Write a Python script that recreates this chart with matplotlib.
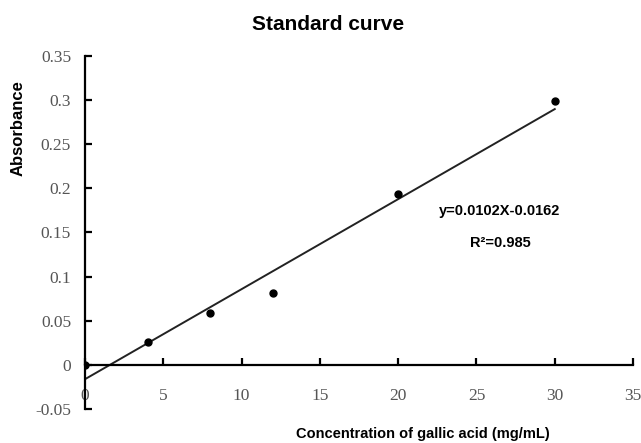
import numpy as np
import matplotlib.pyplot as plt

# concentracion (mg/mL) y absorbancia
conc = [0, 4, 8, 12, 20, 30]
absorb = [0.0, 0.026, 0.059, 0.082, 0.194, 0.299]
slope = 0.0102
intercept = -0.0162
x_ticks = [0, 5, 10, 15, 20, 25, 30, 35]
y_ticks = [-0.05, 0, 0.05, 0.1, 0.15, 0.2, 0.25, 0.3, 0.35]
y_labels = ['-0.05', '0', '0.05', '0.1', '0.15', '0.2', '0.25', '0.3', '0.35']

fig = plt.figure(figsize=(6.41, 4.43), dpi=100)
ax = fig.add_axes([0.1326, 0.0767, 0.855, 0.797])

x_fit = np.array([conc[0], conc[-1]])
ax.plot(x_fit, slope * x_fit + intercept, color='#222222', lw=1.4, zorder=2)
ax.plot(conc, absorb, 'o', color='black', markersize=5, zorder=3)

ax.set_xlim(0, 35)
ax.set_ylim(-0.05, 0.35)
ax.spines['top'].set_visible(False)
ax.spines['right'].set_visible(False)
ax.spines['bottom'].set_position(('data', 0))
ax.spines['left'].set_linewidth(1.6)
ax.spines['bottom'].set_linewidth(1.6)

ax.set_xticks(x_ticks)
ax.set_xticklabels([str(t) for t in x_ticks])
ax.set_yticks(y_ticks)
ax.set_yticklabels(y_labels)
ax.tick_params(axis='both', direction='in', length=5, width=1.6,
               labelsize=12.5, labelcolor='#555555')
ax.tick_params(axis='y', pad=10)
ax.tick_params(axis='x', pad=17)
for lbl in ax.get_xticklabels() + ax.get_yticklabels():
    lbl.set_fontfamily('Liberation Serif')

fig.text(0.512, 0.944, 'Standard curve', ha='center', va='center',
         fontsize=15, fontweight='bold', family='Liberation Sans')
fig.text(0.028, 0.71, 'Absorbance', ha='center', va='center', rotation=90,
         fontsize=12, fontweight='bold', family='Liberation Sans')
fig.text(0.66, 0.004, 'Concentration of gallic acid (mg/mL)', ha='center', va='bottom',
         fontsize=10.5, fontweight='bold', family='Liberation Sans')

ax.text(26.5, 0.174, 'y=0.0102X-0.0162', ha='center', va='center',
        fontsize=10.5, fontweight='bold', family='Liberation Sans')
ax.text(26.5, 0.138, 'R²=0.985', ha='center', va='center',
        fontsize=10.5, fontweight='bold', family='Liberation Sans')

plt.savefig('out.png', dpi=100)
